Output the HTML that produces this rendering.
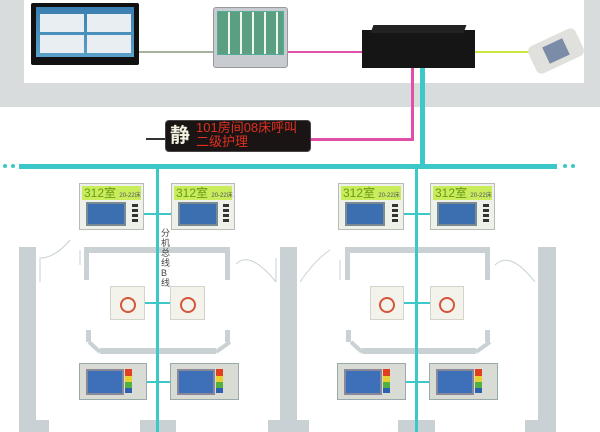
<!DOCTYPE html>
<html><head><meta charset="utf-8"><style>
body{margin:0;width:600px;height:432px;overflow:hidden;background:#fff;position:relative;font-family:"Liberation Sans","Noto Sans CJK SC",sans-serif}
div{position:absolute;box-sizing:border-box}
.g{background:#c9d1d4}
.c{background:#3cc8c8}
.p{background:#eef0ea;border:1px solid #b8bcb4;}
.hd{left:2px;right:2px;top:2px;height:14px;background:#c8ec5a;color:#6a9a18;font-size:12px;line-height:14px;padding-left:2px;white-space:nowrap}
.hd small{font-size:6px;color:#556}
.sc{left:6px;top:18px;width:40px;height:24px;background:#3b6fb0;border:2px solid #7a8a90}
.btns{right:5px;top:20px;width:6px;height:20px;background:repeating-linear-gradient(#333 0 3px,transparent 3px 5px)}
.bp{background:#f3f3ec;border:1px solid #d4d4cc}
.bp i{position:absolute;left:50%;top:50%;width:16px;height:16px;margin:-6px 0 0 -8px;border:2px solid #d5553a;border-radius:50%;box-sizing:border-box}
.lp{background:#d8dcd4;border:1px solid #9aa;}
.lp .s{left:6px;top:5px;width:38px;height:26px;background:#3d70b8;border:2px solid #889}
.lp .r{left:45px;top:5px;width:7px;height:24px;background:linear-gradient(#e04020 0 30%,#e8d030 30% 55%,#50b040 55% 80%,#3060b0 80%)}
</style></head><body>
<!-- top gray band -->
<div class="g" style="left:0;top:0;width:600px;height:107px;background:#d8dcdd"></div>
<div style="left:24px;top:0;width:560px;height:83px;background:#fff"></div>
<!-- lines -->
<div style="left:139px;top:51px;width:74px;height:2px;background:#a8b0a0"></div>
<div style="left:288px;top:51px;width:74px;height:2px;background:#e050a8"></div>
<div style="left:475px;top:51px;width:55px;height:2px;background:#c8e840"></div>
<!-- monitor -->
<div style="left:31px;top:3px;width:108px;height:62px;background:#111;border-radius:2px"></div>
<div style="left:36px;top:7px;width:98px;height:50px;background:linear-gradient(#3a7fb0,#5aa0c8)"></div>
<div style="left:40px;top:14px;width:44px;height:18px;background:#e8eef2"></div>
<div style="left:87px;top:14px;width:44px;height:18px;background:#e8eef2"></div>
<div style="left:40px;top:35px;width:44px;height:18px;background:#e8eef2"></div>
<div style="left:87px;top:35px;width:44px;height:18px;background:#e8eef2"></div>
<!-- tablet -->
<div style="left:213px;top:7px;width:75px;height:61px;background:#c8ccd0;border-radius:3px;border:1px solid #999"></div>
<div style="left:217px;top:11px;width:67px;height:44px;background:#eef4f0;border:1px solid #5a9;background-image:repeating-linear-gradient(90deg,#5aa080 0 10px,transparent 10px 12px);background-size:100% 4px;background-repeat:repeat-y"></div>
<!-- box -->
<div style="left:362px;top:30px;width:113px;height:38px;background:#151515"></div>
<div style="left:372px;top:25px;width:93px;height:8px;background:#222;transform:skewX(-20deg)"></div>
<!-- phone -->
<div style="left:530px;top:36px;width:52px;height:30px;background:#e0e0dc;border-radius:6px;transform:rotate(-25deg)"></div>
<div style="left:545px;top:42px;width:22px;height:18px;background:#7a8ca8;transform:rotate(-25deg)"></div>
<!-- pink & cyan verticals -->
<div style="left:411px;top:68px;width:3px;height:73px;background:#e050a8"></div>
<div style="left:311px;top:138px;width:103px;height:3px;background:#e050a8"></div>
<div class="c" style="left:420px;top:68px;width:5px;height:100px"></div>
<!-- LED -->
<div style="left:146px;top:138px;width:20px;height:2px;background:#333"></div>
<div style="left:165px;top:120px;width:146px;height:32px;background:#1a1414;border-radius:4px;border:1px solid #444"></div>
<div style="left:170px;top:119px;color:#f0f0e0;font-size:20px;font-weight:bold">静</div>
<div style="left:196px;top:121px;color:#e03020;font-size:13px;line-height:14px;white-space:nowrap">101房间08床呼叫<br>二级护理</div>
<!-- bus -->
<div class="c" style="left:19px;top:164px;width:538px;height:5px"></div>
<div class="c" style="left:3px;top:164px;width:4px;height:4px;border-radius:2px"></div>
<div class="c" style="left:11px;top:164px;width:4px;height:4px;border-radius:2px"></div>
<div class="c" style="left:563px;top:164px;width:4px;height:4px;border-radius:2px"></div>
<div class="c" style="left:571px;top:164px;width:4px;height:4px;border-radius:2px"></div>
<!-- walls -->
<div class="g" style="left:19px;top:247px;width:17px;height:185px"></div>
<div class="g" style="left:22px;top:420px;width:27px;height:12px"></div>
<div class="g" style="left:280px;top:247px;width:17px;height:185px"></div>
<div class="g" style="left:268px;top:420px;width:41px;height:12px"></div>
<div class="g" style="left:538px;top:247px;width:18px;height:185px"></div>
<div class="g" style="left:525px;top:420px;width:30px;height:12px"></div>
<div class="g" style="left:84px;top:247px;width:146px;height:6px"></div>
<div class="g" style="left:84px;top:247px;width:5px;height:33px"></div>
<div class="g" style="left:225px;top:247px;width:5px;height:33px"></div>
<div class="g" style="left:345px;top:247px;width:145px;height:6px"></div>
<div class="g" style="left:345px;top:247px;width:5px;height:33px"></div>
<div class="g" style="left:485px;top:247px;width:5px;height:33px"></div>
<div class="g" style="left:100px;top:348px;width:116px;height:6px"></div>
<div class="g" style="left:86px;top:330px;width:5px;height:12px"></div>
<div class="g" style="left:225px;top:330px;width:5px;height:12px"></div>
<div class="g" style="left:362px;top:348px;width:114px;height:6px"></div>
<div class="g" style="left:346px;top:330px;width:5px;height:12px"></div>
<div class="g" style="left:485px;top:330px;width:5px;height:12px"></div>
<div class="g" style="left:140px;top:420px;width:36px;height:12px"></div>
<div class="g" style="left:398px;top:420px;width:37px;height:12px"></div>
<svg style="position:absolute;left:0;top:0" width="600" height="432" fill="none" stroke="#c9d1d4" stroke-width="4">
<path d="M89 342 L100 352 M230 342 L216 352 M351 342 L362 352 M490 342 L476 352"/>
<path stroke-width="1" d="M40 282 L40 258 Q55 258 70 240 M80 250 L80 265 M236 264 Q250 250 276 282 M276 258 L276 282 M300 282 Q315 260 330 250 M340 280 L340 260 M495 265 Q510 250 535 282"/>
</svg>
<!-- cyan verticals -->
<div class="c" style="left:156px;top:166px;width:3px;height:266px"></div>
<div class="c" style="left:415px;top:166px;width:3px;height:266px"></div>
<div style="left:161px;top:228px;width:12px;font-size:9px;line-height:10px;color:#444">分<br>机<br>总<br>线<br>B<br>线</div>
<!-- connectors -->
<div class="c" style="left:143px;top:213px;width:28px;height:2px"></div>
<div class="c" style="left:403px;top:213px;width:28px;height:2px"></div>
<div class="c" style="left:145px;top:302px;width:26px;height:2px"></div>
<div class="c" style="left:404px;top:302px;width:27px;height:2px"></div>
<div class="c" style="left:147px;top:381px;width:24px;height:2px"></div>
<div class="c" style="left:406px;top:381px;width:24px;height:2px"></div>
<!-- 312 panels -->
<div class="p" style="left:79px;top:183px;width:65px;height:47px"><div class="hd">312室 <small>20-22床</small></div><div class="sc"></div><div class="btns"></div></div>
<div class="p" style="left:171px;top:183px;width:64px;height:47px"><div class="hd">312室 <small>20-22床</small></div><div class="sc"></div><div class="btns"></div></div>
<div class="p" style="left:338px;top:183px;width:66px;height:47px"><div class="hd">312室 <small>20-22床</small></div><div class="sc"></div><div class="btns"></div></div>
<div class="p" style="left:430px;top:183px;width:65px;height:47px"><div class="hd">312室 <small>20-22床</small></div><div class="sc"></div><div class="btns"></div></div>
<!-- buttons -->
<div class="bp" style="left:110px;top:286px;width:35px;height:34px"><i></i></div>
<div class="bp" style="left:170px;top:286px;width:35px;height:34px"><i></i></div>
<div class="bp" style="left:370px;top:286px;width:34px;height:34px"><i></i></div>
<div class="bp" style="left:430px;top:286px;width:34px;height:34px"><i></i></div>
<!-- bottom panels -->
<div class="lp" style="left:79px;top:363px;width:68px;height:37px"><div class="s"></div><div class="r"></div></div>
<div class="lp" style="left:170px;top:363px;width:69px;height:37px"><div class="s"></div><div class="r"></div></div>
<div class="lp" style="left:337px;top:363px;width:69px;height:37px"><div class="s"></div><div class="r"></div></div>
<div class="lp" style="left:429px;top:363px;width:69px;height:37px"><div class="s"></div><div class="r"></div></div>
</body></html>
